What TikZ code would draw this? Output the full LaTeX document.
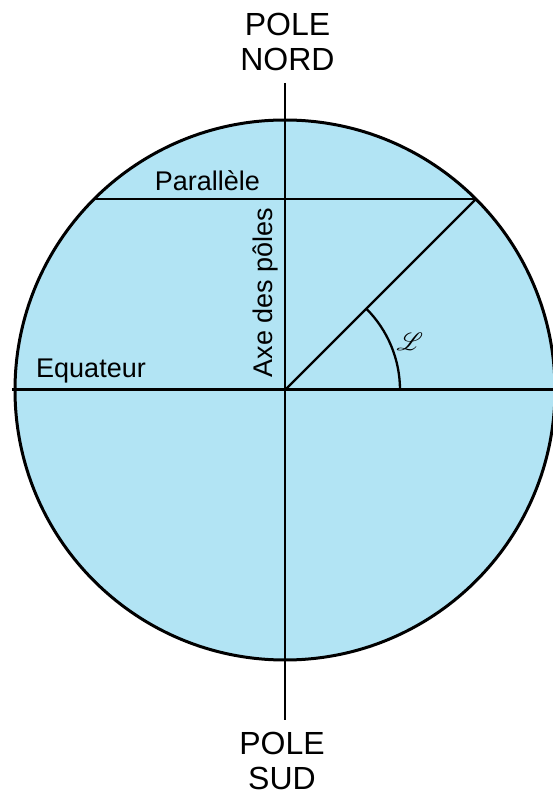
\documentclass[tikz,border=0pt]{standalone}
\usepackage{fontspec}
\usepackage{mathrsfs}
\setmainfont{Liberation Sans}
\usetikzlibrary{positioning}
\definecolor{terre}{RGB}{178,228,244}

\begin{document}
\begin{tikzpicture}[x=1pt, y=1pt,
  trait/.style={line width=2.3pt},
  bord/.style={line width=3pt},
  lbl/.style={font=\fontsize{27}{32}\selectfont, inner sep=0pt},
  pole/.style={align=center, inner sep=0pt, font=\fontsize{32}{35}\selectfont}
]
\useasboundingbox (-285,-407) rectangle (268,390);
\fill[terre] (0,0) circle (270);

% points
\coordinate (O) at (0,0);
\coordinate (N) at (0,307);
\coordinate (S) at (0,-330);
\coordinate (E1) at (-273,0);
\coordinate (E2) at (268,0);
\coordinate (P) at (45:270);
\coordinate (P1) at (135:270);
\coordinate (A) at (115,0);

% lignes
\draw[trait] (N) -- (S);
\draw[bord] (E1) -- (E2);
\draw[trait] (P1) -- (P);
\draw[trait] (O) -- (P);
\draw[trait] (A) arc[start angle=0, end angle=45, radius=115];
\draw[bord] (O) circle (270);

% textes
\node[pole] (nord) at (2.5,348) {POLE\\NORD};
\node[pole] (sud) at (-3,-371) {POLE\\SUD};
\node[lbl, anchor=base] (par) at (-77.5,199) {Parallèle};
\node[lbl, anchor=base] (equ) at (-194,12) {Equateur};
\node[lbl, anchor=base, rotate=90] (axe) at (-13,97.5) {Axe des pôles};
\node[font=\fontsize{30}{34}\selectfont] (lat) at (125,48) {$\mathscr{L}$};
\end{tikzpicture}
\end{document}
